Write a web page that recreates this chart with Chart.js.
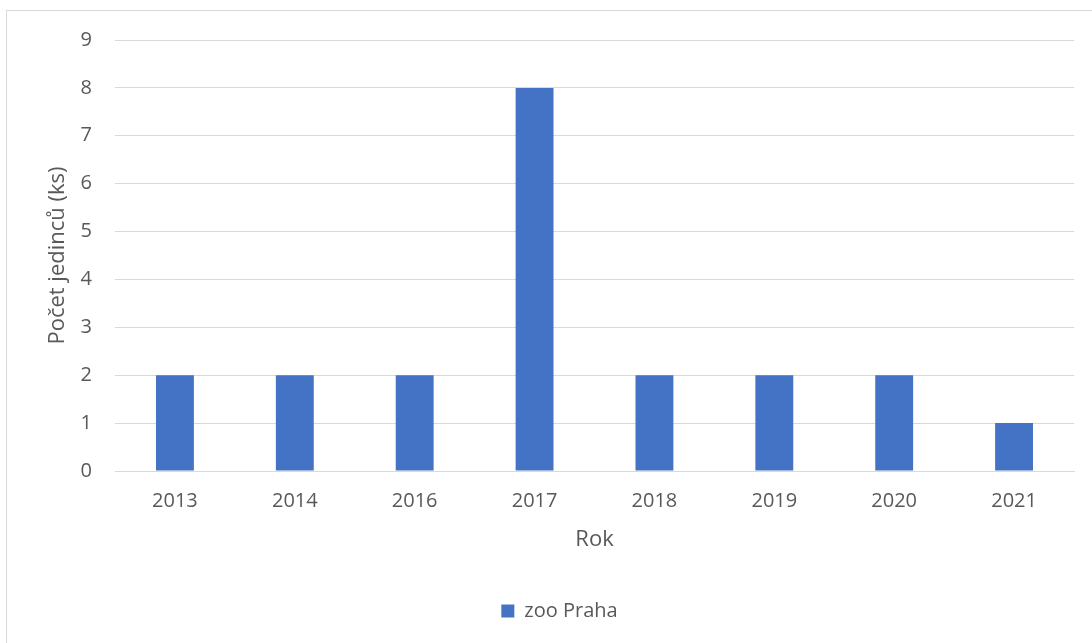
<!DOCTYPE html>
<html>
<head>
<meta charset="utf-8">
<script src="https://cdn.jsdelivr.net/npm/chart.js@4/dist/chart.umd.min.js"></script>
<style>
  html, body { margin: 0; padding: 0; background: #fff; }
  #wrap { position: relative; width: 1092px; height: 643px; overflow: hidden; }
  #frame { position: absolute; left: 6px; top: 10px; width: 1200px; height: 800px; border: 1px solid #d9d9d9; }
  #chart { position: absolute; left: 0; top: 0; }
</style>
</head>
<body>
<div id="wrap">
  <div id="frame"></div>
  <canvas id="chart" width="1092" height="643"></canvas>
</div>
<script>
// data
const years = ['2013', '2014', '2016', '2017', '2018', '2019', '2020', '2021'];
const zooPraha = [2, 2, 2, 8, 2, 2, 2, 1];
const seriesName = 'zoo Praha';
const xTitle = 'Rok';
const yTitle = 'Počet jedinců (ks)';

const textColor = '#595959';
const gridColor = '#d9d9d9';
const font = { family: '"Open Sans", sans-serif', size: 20 };
const titleFont = { family: '"Open Sans", sans-serif', size: 22 };

new Chart(document.getElementById('chart'), {
    type: 'bar',
    data: {
        labels: years,
        datasets: [{
            label: seriesName,
            data: zooPraha,
            backgroundColor: '#4472c4',
            borderWidth: 0,
            barPercentage: 0.316,
            categoryPercentage: 1
        }]
    },
    options: {
        responsive: false,
        animation: false,
        layout: { padding: { left: 45, right: 18, top: 40, bottom: 12 } },
        plugins: {
            tooltip: { enabled: false },
            legend: {
                position: 'bottom',
                labels: {
                    color: textColor,
                    font: font,
                    boxWidth: 13,
                    boxHeight: 13,
                    padding: 10
                }
            }
        },
        scales: {
            x: {
                grid: { display: false, drawTicks: false },
                border: { color: gridColor, width: 1 },
                ticks: { color: textColor, font: font, padding: 18, maxRotation: 0 },
                title: { display: true, text: xTitle, color: textColor, font: titleFont, padding: { top: 0, bottom: 38 } },
                afterFit: (scale) => { scale.height = 120; }
            },
            y: {
                min: 0,
                max: 9,
                grid: { color: gridColor, lineWidth: 1, drawTicks: false },
                border: { display: false },
                ticks: { stepSize: 1, color: textColor, font: font, padding: 23 },
                title: { display: true, text: yTitle, color: textColor, font: titleFont, padding: { top: 0, bottom: 0 } },
                afterFit: (scale) => { scale.width = 70; }
            }
        }
    }
});
</script>
</body>
</html>
